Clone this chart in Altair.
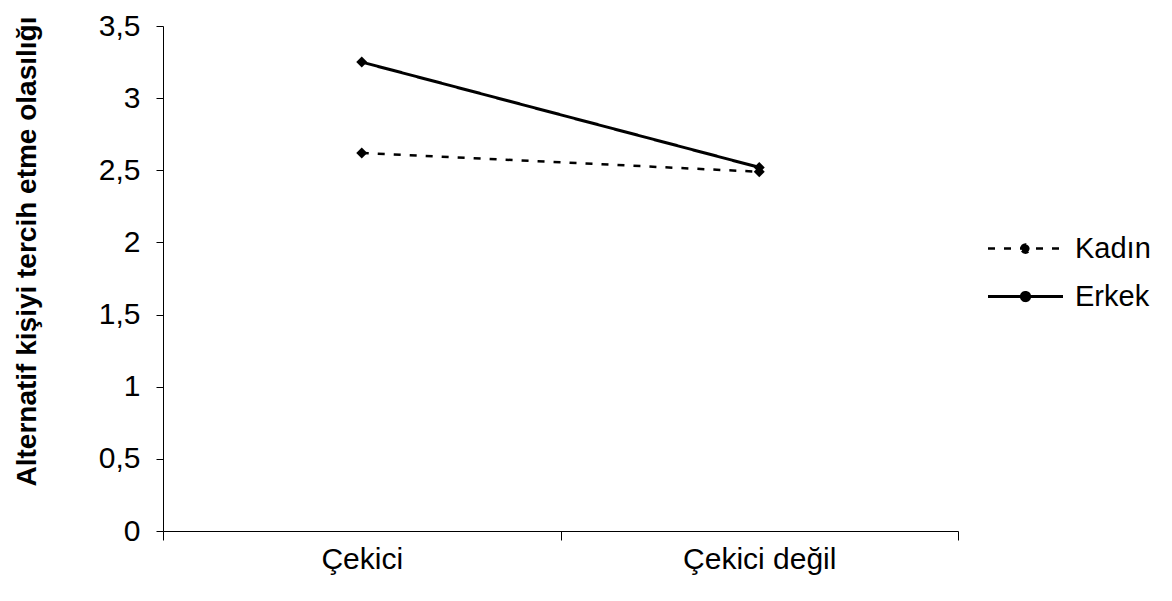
import altair as alt
import pandas as pd

categories = ["Çekici", "Çekici değil"]
groups = ["Kadın", "Erkek"]
kadin = [2.62, 2.49]
erkek = [3.25, 2.52]
y_ticks = [0, 0.5, 1, 1.5, 2, 2.5, 3, 3.5]

rows = []
for g, vals in zip(groups, [kadin, erkek]):
    for c, v in zip(categories, vals):
        rows.append({"durum": c, "cinsiyet": g, "deger": v})
df = pd.DataFrame(rows)

FONT = "Liberation Sans"
sym = "M-5,0L5,0M-0.55,0A0.55,0.55,0,1,1,0.55,0A0.55,0.55,0,1,1,-0.55,0Z"

x = alt.X("durum:N", sort=categories, title=None,
          scale=alt.Scale(paddingInner=0, paddingOuter=0),
          axis=alt.Axis(labelAngle=0, tickBand="extent", labelFontSize=30,
                        labelFont=FONT, labelColor="black", domainColor="black",
                        tickColor="black", tickSize=9, labelPadding=4, grid=False))
y = alt.Y("deger:Q", title="Alternatif kişiyi tercih etme olasılığı",
          scale=alt.Scale(domain=[0, 3.5], nice=False),
          axis=alt.Axis(values=y_ticks, labelExpr="replace(format(datum.value,'~g'),'.',',')",
                        labelFontSize=30, labelFont=FONT, labelColor="black",
                        titleFont=FONT, titleFontSize=28, titleFontWeight="bold",
                        titleColor="black", titlePadding=57, domainColor="black",
                        tickColor="black", tickSize=7, labelPadding=16, grid=False,
                        titleY=225))

lines = alt.Chart(df).mark_line(color="black").encode(
    x=x, y=y,
    strokeDash=alt.StrokeDash("cinsiyet:N", sort=groups,
                              scale=alt.Scale(domain=groups, range=[[7, 9], [1, 0]]),
                              legend=alt.Legend(title=None, orient="none", legendX=848, legendY=208,
                                                symbolType=sym, symbolSize=225,
                                                symbolStrokeColor="black", symbolFillColor="black",
                                                symbolStrokeWidth=2, labelOffset=35,
                                                labelFontSize=29, labelFont=FONT, labelColor="black",
                                                rowPadding=18)),
    strokeWidth=alt.StrokeWidth("cinsiyet:N", scale=alt.Scale(domain=groups, range=[2.5, 3]),
                                legend=None),
    detail="cinsiyet:N",
)
points = alt.Chart(df).mark_point(filled=True, color="black", size=120, opacity=1, shape="diamond").encode(
    x=x, y=y, detail="cinsiyet:N")

chart = alt.layer(lines, points).properties(
    width=795, height=505,
    autosize=alt.AutoSizeParams(type="none"),
    padding={"left": 155, "top": 18, "right": 206, "bottom": 58},
).configure_view(stroke=None)

chart.save("out.html", embed_options={"renderer": "svg", "actions": False})
